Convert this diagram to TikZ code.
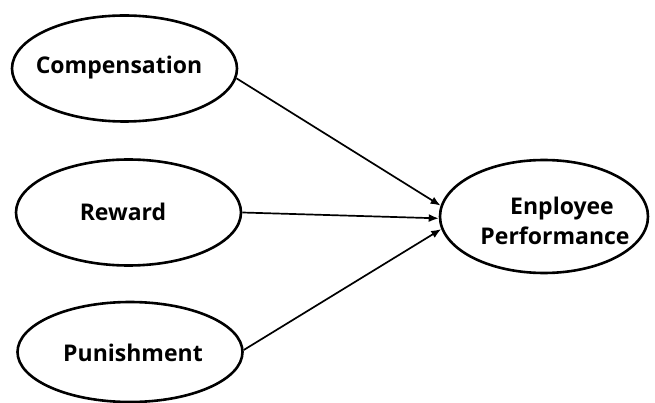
\documentclass[tikz,border=0pt]{standalone}
\usepackage{fontspec}
\setmainfont{Open Sans}
\usetikzlibrary{shapes.geometric,arrows.meta}
\begin{document}
\begin{tikzpicture}[x=1pt,y=-1pt,
  construct/.style={ellipse,draw=black,line width=2.6pt,inner sep=0pt,
    minimum width=225pt,minimum height=106pt},
  label/.style={font=\fontsize{23}{27}\selectfont\bfseries,align=center,inner sep=0pt},
  link/.style={line width=1.7pt,-{Latex[length=10pt,width=8pt]}}]
\useasboundingbox (0,0) rectangle (655,403);
\fill[white] (0,0) rectangle (655,403);
\node[construct] (comp) at (124.5,68.5) {};
\node[construct] (rew) at (128.5,212.5) {};
\node[construct,minimum height=100pt] (pun) at (130,352) {};
\node[construct,minimum width=208pt,minimum height=113pt] (emp) at (544,216.5) {};
\node[label] (tcomp) at (119,68) {Compensation};
\node[label] (trew) at (123,212) {Reward};
\node[label] (tpun) at (133,353) {Punishment};
\node[label] (temp) at (555,221) {\hspace*{14pt}Enployee\\[3pt]Performance};
\draw[link] (comp.355) -- (emp.174);
\draw[link] (rew.0) -- (emp.181);
\draw[link] (pun.1) -- (emp.187);
\end{tikzpicture}
\end{document}
